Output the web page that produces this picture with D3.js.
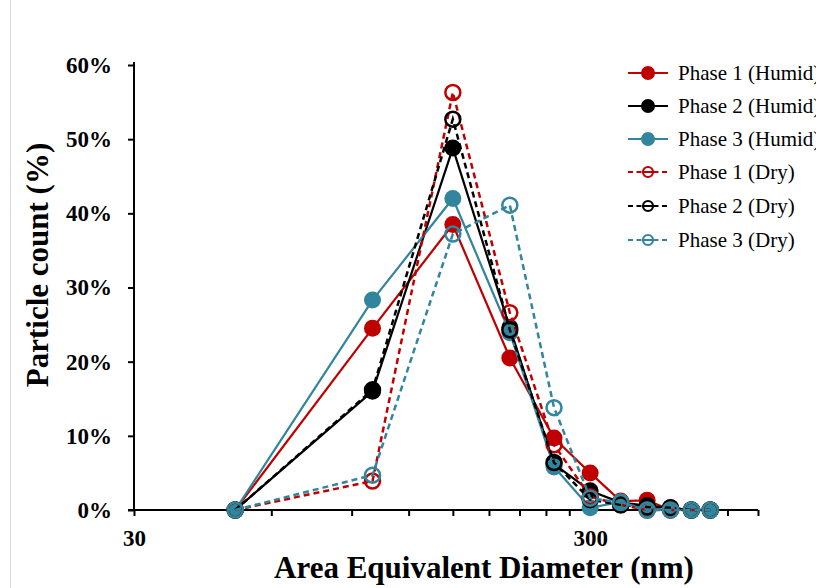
<!DOCTYPE html>
<html>
<head>
<meta charset="utf-8">
<script src="https://cdn.jsdelivr.net/npm/d3@7"></script>
<style>
  html, body { margin: 0; padding: 0; background: #fff; }
  svg { display: block; }
</style>
</head>
<body>
<svg id="chart" width="816" height="588"></svg>
<script>
// ---- Data ----
const diameters = [50, 100, 150, 200, 250, 300, 350, 400, 450, 500, 550];
const seriesNames = ["Phase 1 (Humid)", "Phase 2 (Humid)", "Phase 3 (Humid)", "Phase 1 (Dry)", "Phase 2 (Dry)", "Phase 3 (Dry)"];
const phase1Humid = [0, 24.5, 38.5, 20.5, 9.7, 5.0, 1.2, 1.3, 0, 0, 0];
const phase2Humid = [0, 16.0, 48.8, 24.6, 6.2, 2.6, 1.0, 0.6, 0.3, 0, 0];
const phase3Humid = [0, 28.3, 42.0, 23.9, 5.8, 0.3, 1.1, 0, 0, 0, 0];
const phase1Dry   = [0, 3.9, 56.3, 26.6, 8.8, 1.8, 0.7, 0, 0, 0, 0];
const phase2Dry   = [0, 16.2, 52.7, 24.3, 6.4, 1.4, 0.7, 0.4, 0.3, 0, 0];
const phase3Dry   = [0, 4.7, 37.2, 41.1, 13.8, 1.6, 1.0, 0, 0, 0, 0];
const yTicks = [0, 10, 20, 30, 40, 50, 60];
const xTicks = [30, 60, 90, 120, 150, 180, 210, 240, 270, 300, 600, 700];
const xTickLabels = [30, 300];

const colors = ["#C00000", "#000000", "#31859C", "#C00000", "#000000", "#31859C"];
const dashed = [false, false, false, true, true, true];
const allValues = [phase1Humid, phase2Humid, phase3Humid, phase1Dry, phase2Dry, phase3Dry];

// ---- Layout ----
const svg = d3.select("#chart");
const font = "'Liberation Serif', 'Times New Roman', serif";

svg.append("line").attr("x1", 10.5).attr("x2", 10.5).attr("y1", 0).attr("y2", 588)
  .attr("stroke", "#d9d9d9").attr("stroke-width", 1);

const x = d3.scaleLog().domain([30, 700]).range([134, 758]);
const y = d3.scaleLinear().domain([0, 60]).range([510, 65]);

// Y axis
const yAxis = d3.axisLeft(y).tickValues(yTicks).tickSize(6).tickPadding(16)
  .tickFormat(d => d + "%");
const gy = svg.append("g").attr("transform", "translate(134,0)").call(yAxis);
gy.select(".domain").attr("d", `M0,${y(60) - 3}V${y(0)}`).attr("stroke", "#000").attr("stroke-width", 2);
gy.selectAll(".tick line").attr("stroke", "#000").attr("stroke-width", 2);
gy.selectAll(".tick text").attr("font-family", font).attr("font-size", 23)
  .attr("font-weight", "bold").attr("fill", "#000");

// X axis
const xAxis = d3.axisBottom(x).tickValues(xTicks).tickSize(6).tickPadding(14)
  .tickFormat(d => xTickLabels.includes(d) ? String(d) : "");
const gx = svg.append("g").attr("transform", "translate(0,510)").call(xAxis);
gx.select(".domain").attr("d", `M${x(30) - 6},0H${x(700)}`).attr("stroke", "#000").attr("stroke-width", 2);
gx.selectAll(".tick line").attr("stroke", "#000").attr("stroke-width", 2);
gx.selectAll(".tick text").attr("font-family", font).attr("font-size", 23)
  .attr("font-weight", "bold").attr("fill", "#000");

// Axis titles
svg.append("text").attr("x", 484).attr("y", 578).attr("text-anchor", "middle")
  .attr("font-family", font).attr("font-size", 31).attr("font-weight", "bold")
  .text("Area Equivalent Diameter (nm)");
svg.append("text").attr("transform", "translate(48,265) rotate(-90)").attr("text-anchor", "middle")
  .attr("font-family", font).attr("font-size", 31).attr("font-weight", "bold")
  .text("Particle count (%)");

// Series
const line = d3.line().x(d => x(d[0])).y(d => y(d[1]));
allValues.forEach((vals, i) => {
  const pts = diameters.map((d, j) => [d, vals[j]]);
  const g = svg.append("g");
  g.append("path").attr("d", line(pts)).attr("fill", "none")
    .attr("stroke", colors[i]).attr("stroke-width", dashed[i] ? 2.5 : 2.2)
    .attr("stroke-dasharray", dashed[i] ? "6,4" : null);
  g.selectAll("circle").data(pts).join("circle")
    .attr("cx", d => x(d[0])).attr("cy", d => y(d[1]))
    .attr("r", dashed[i] ? 7.5 : 8.5)
    .attr("fill", dashed[i] ? "none" : colors[i])
    .attr("stroke", colors[i]).attr("stroke-width", dashed[i] ? 2.5 : 0);
});

// Legend
const legendY = [73, 106, 139, 172, 206, 240];
seriesNames.forEach((name, i) => {
  const g = svg.append("g").attr("transform", `translate(0,${legendY[i]})`);
  g.append("line").attr("x1", 628).attr("x2", 668).attr("y1", 0).attr("y2", 0)
    .attr("stroke", colors[i]).attr("stroke-width", 2.2)
    .attr("stroke-dasharray", dashed[i] ? "5,3.5" : null);
  g.append("circle").attr("cx", 648).attr("cy", 0).attr("r", dashed[i] ? 5 : 7)
    .attr("fill", dashed[i] ? "#fff" : colors[i])
    .attr("stroke", colors[i]).attr("stroke-width", dashed[i] ? 2.2 : 0);
  if (dashed[i]) {
    g.append("line").attr("x1", 644).attr("x2", 652).attr("y1", 0).attr("y2", 0)
      .attr("stroke", colors[i]).attr("stroke-width", 2);
  }
  g.append("text").attr("x", 678).attr("y", 7).attr("font-family", font)
    .attr("font-size", 21).attr("fill", "#000").text(name);
});
</script>
</body>
</html>
